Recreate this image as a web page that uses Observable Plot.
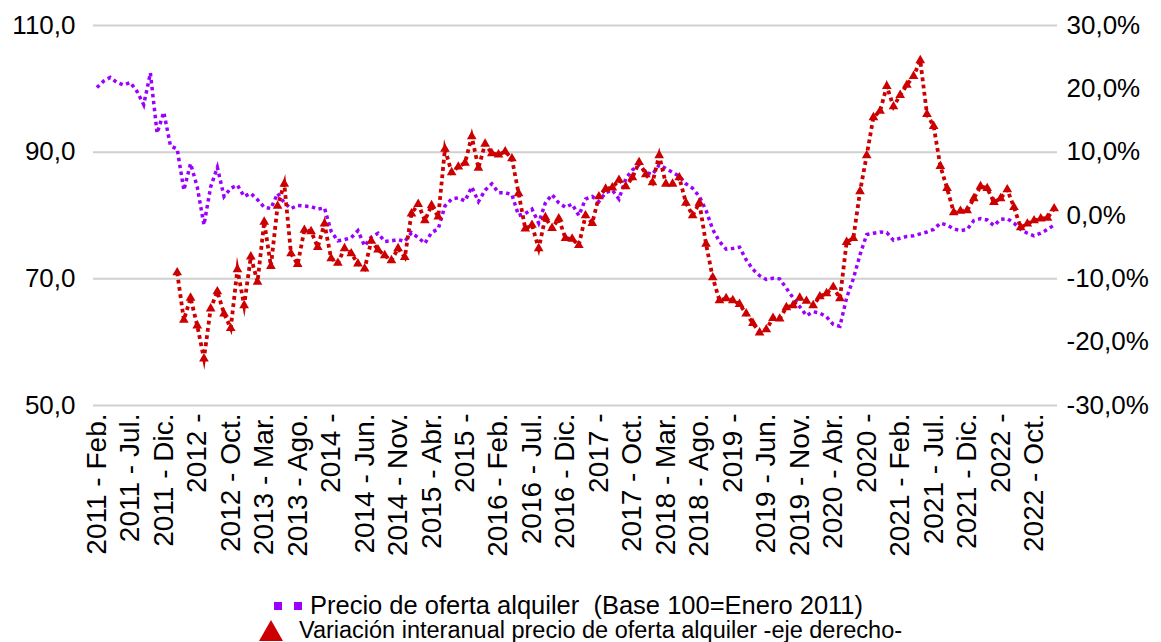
<!DOCTYPE html>
<html><head><meta charset="utf-8">
<script src="https://cdn.jsdelivr.net/npm/d3@7"></script>
<script src="https://cdn.jsdelivr.net/npm/@observablehq/plot@0.6"></script>
<style>
body{margin:0;background:#fff;font-family:"Liberation Sans",Arial,sans-serif;color:#000;}
#legend{display:flex;flex-direction:column;align-items:center;margin-top:13px;}
.row{display:flex;align-items:center;height:25px;line-height:25px;}
.sq{display:inline-block;width:8px;height:8px;background:#9B00FF;}
.tri{display:inline-block;width:0;height:0;border-left:12px solid transparent;border-right:12px solid transparent;border-bottom:21px solid #CC0000;margin-right:16px;}
</style></head><body>
<div id="chart"></div>
<div id="legend">
  <div class="row" style="font-size:25.5px;transform:translateX(-12px)"><span class="sq" style="margin-right:12px"></span><span class="sq" style="margin-right:8px"></span><span>Precio de oferta alquiler&nbsp; (Base 100=Enero 2011)</span></div>
  <div class="row" style="font-size:23.5px"><span class="tri"></span><span>Variación interanual precio de oferta alquiler -eje derecho-</span></div>
</div>
<script>
// Categories: monthly, 2011-Feb .. 2023-Jan
const months = [];
for (let y = 2011, m = 1; months.length < 144; ) { months.push(`${y}-${String(m+1).padStart(2,"0")}`); m++; if (m === 12) { m = 0; y++; } }

// Tick labels (every 5 months), as shown in the original
const tickLabels = ["2011 - Feb.","2011 - Jul.","2011 - Dic.","2012 -","2012 - Oct.","2013 - Mar.","2013 - Ago.","2014 -","2014 - Jun.","2014 - Nov.","2015 - Abr.","2015 -","2016 - Feb.","2016 - Jul.","2016 - Dic.","2017 -","2017 - Oct.","2018 - Mar.","2018 - Ago.","2019 -","2019 - Jun.","2019 - Nov.","2020 - Abr.","2020 -","2021 - Feb.","2021 - Jul.","2021 - Dic.","2022 -","2022 - Oct."];

// Precio de oferta alquiler (Base 100 = Enero 2011), left axis
const precio = [100.2,101.2,101.8,101.0,100.6,101.0,99.6,97.5,102.5,93.0,
96.3,91.0,90.5,84.0,88.2,84.5,78.5,84.5,87.6,83.0,
84.3,84.8,83.0,83.5,82.5,81.3,81.1,83.5,82.0,81.1,
81.6,81.5,81.4,81.0,81.2,77.5,76.0,76.2,76.5,77.6,
75.2,76.6,77.2,75.9,76.0,76.2,75.9,77.3,76.5,75.6,
77.3,77.9,81.5,82.6,82.8,82.3,84.5,82.2,84.0,85.0,
83.6,83.6,83.3,80.0,80.3,81.0,78.8,82.0,83.3,82.0,
81.3,81.8,80.0,82.6,83.0,82.2,83.6,84.0,82.6,85.8,
87.2,88.0,86.8,86.5,88.0,87.4,86.8,86.2,85.0,84.3,
83.0,80.8,77.8,75.9,74.7,74.8,75.0,73.0,71.5,70.5,
69.9,70.1,70.0,68.5,67.0,65.6,64.2,64.8,64.6,64.0,
62.8,62.5,67.0,70.0,73.8,77.0,77.2,77.4,77.3,76.1,
76.4,76.7,76.8,77.1,77.4,77.8,78.8,78.5,77.9,77.6,
77.8,79.2,79.5,79.3,78.4,79.4,79.5,78.8,77.8,77.2,
76.8,77.2,77.8,78.5];

// Variación interanual (%), right axis, starting 2012-Feb
const variacionStart = 12;
const variacion = [-9.0,-16.5,-13.0,-17.4,-22.6,-14.7,-12.0,-15.5,-17.8,-8.5,
-14.2,-6.5,-10.5,-1.0,-8.0,1.5,5.0,-6.0,-7.7,-2.3,
-2.5,-5.0,-1.3,-6.8,-7.5,-5.2,-6.0,-7.6,-8.4,-4.0,
-5.4,-6.3,-7.1,-5.2,-6.6,0.3,1.8,-0.8,1.6,-0.2,
10.5,6.8,7.7,8.3,12.5,7.5,11.3,9.8,9.6,10.1,
9.0,3.5,-2.1,-1.5,-5.2,-0.3,-2.0,-0.5,-3.6,-3.7,
-4.7,0.0,-1.2,3.0,4.2,4.4,5.6,4.6,6.0,8.4,
6.5,5.2,9.5,5.0,5.0,6.0,2.0,0.0,2.0,-4.5,
-9.8,-13.4,-13.1,-13.4,-14.0,-15.5,-17.0,-18.5,-18.0,-16.2,
-16.3,-14.5,-14.2,-13.0,-13.5,-14.2,-12.8,-12.3,-11.3,-13.1,
-4.2,-3.6,3.8,9.5,15.5,16.5,20.4,17.2,19.0,20.6,
22.0,24.5,16.0,14.1,7.8,4.3,0.5,0.7,0.8,2.7,
4.6,4.3,2.1,2.7,4.1,1.3,-1.9,-1.3,-0.8,-0.5,
-0.4,1.1];

const leftTicks = [50, 70, 90, 110];
const rightTicks = [-30, -20, -10, 0, 10, 20, 30];

const precioData = precio.map((v, i) => ({m: months[i], v}));
const varData = variacion.map((v, i) => ({m: months[variacionStart + i], v}));
const toLeft = p => 80 + p; // right axis (%) mapped onto left scale: 0% = 80, 10% = 90

const fmt = n => n.toFixed(1).replace(".", ",");

const chart = Plot.plot({
  width: 1161,
  height: 580,
  marginLeft: 93,
  marginRight: 104,
  marginTop: 25,
  marginBottom: 175,
  style: {fontFamily: "'Liberation Sans', Arial, sans-serif", fontSize: "26px", color: "#000", background: "#fff"},
  x: {type: "point", domain: months, padding: 0.5},
  y: {domain: [50, 110]},
  marks: [
    Plot.gridY(leftTicks, {stroke: "#d0d0d0", strokeOpacity: 1, strokeWidth: 2}),
    Plot.axisY({ticks: leftTicks, tickFormat: fmt, tickSize: 0, tickPadding: 18, label: null, fontSize: 26}),
    Plot.axisY({anchor: "right", ticks: rightTicks.map(toLeft), tickFormat: d => fmt(d - 80) + "%", tickSize: 0, tickPadding: 9, label: null, fontSize: 26}),
    Plot.axisX({ticks: months.filter((d, i) => i % 5 === 0), tickFormat: d => tickLabels[months.indexOf(d) / 5], tickRotate: -90, tickSize: 0, tickPadding: 8, label: null, fontSize: 28}),
    Plot.line(precioData, {x: "m", y: "v", stroke: "#9B00FF", strokeWidth: 3.5, strokeDasharray: "3.5,3.5", strokeLinejoin: "miter", strokeMiterlimit: 10, strokeLinecap: "butt"}),
    Plot.line(varData, {x: "m", y: d => toLeft(d.v), stroke: "#CC0000", strokeWidth: 3.8, strokeDasharray: "3.8,3.5", strokeLinejoin: "miter", strokeMiterlimit: 10, strokeLinecap: "butt"}),
    Plot.dot(varData, {x: "m", y: d => toLeft(d.v), symbol: "triangle", r: 3.6, fill: "#CC0000", stroke: "none"})
  ]
});
document.getElementById("chart").appendChild(chart);
</script>
</body></html>
